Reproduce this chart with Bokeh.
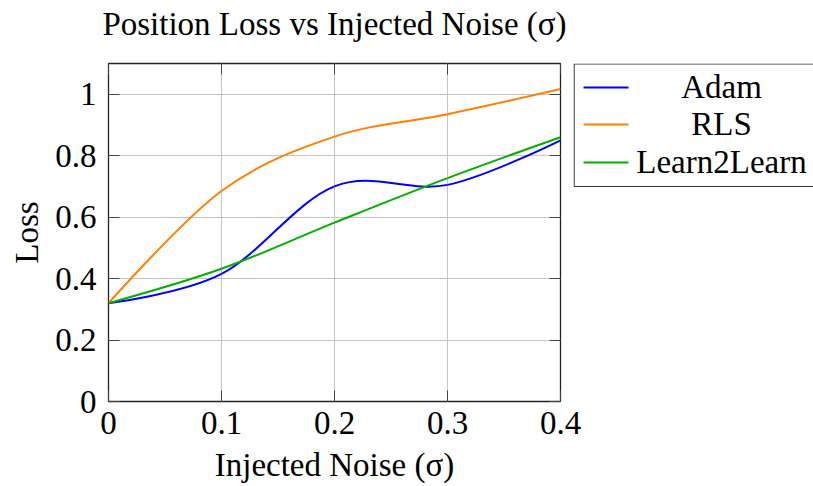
from bokeh.plotting import figure
from bokeh.layouts import row
from bokeh.models import Range1d, FixedTicker, LinearAxis
from bokeh.core.properties import value
from bokeh.embed import file_html
from bokeh.resources import INLINE

# --- data -------------------------------------------------------------
noise = [0.0, 0.1, 0.2, 0.3, 0.4]
adam = [0.32, 0.415, 0.70, 0.705, 0.85]
rls = [0.32, 0.685, 0.862, 0.935, 1.017]
learn2learn = [0.32, 0.432, 0.582, 0.727, 0.86]

series_names = ["Adam", "RLS", "Learn2Learn"]
series_colors = ["#0000ff", "#ff8000", "#00b000"]

x_ticks = [0.0, 0.1, 0.2, 0.3, 0.4]
x_tick_labels = ["0", "0.1", "0.2", "0.3", "0.4"]
y_ticks = [0.0, 0.2, 0.4, 0.6, 0.8, 1.0]
y_tick_labels = ["0", "0.2", "0.4", "0.6", "0.8", "1"]

TITLE = "Position Loss vs Injected Noise (σ)"
FONT = "Liberation Serif"
FS = "33px"

# page geometry (pixels)
H = 486
FRAME_TOP, FRAME_BOTTOM = 63, 401


def smooth_segments(xs, ys, k=0.17):
    """Cubic Bezier pieces of a cardinal spline through the points."""
    n = len(xs)
    seg = dict(x0=[], y0=[], x1=[], y1=[], cx0=[], cy0=[], cx1=[], cy1=[])
    for i in range(n - 1):
        if i == 0:
            c0x, c0y = xs[0], ys[0]
        else:
            c0x = xs[i] + k * (xs[i + 1] - xs[i - 1])
            c0y = ys[i] + k * (ys[i + 1] - ys[i - 1])
        if i + 1 == n - 1:
            c1x, c1y = xs[n - 1], ys[n - 1]
        else:
            c1x = xs[i + 1] - k * (xs[i + 2] - xs[i])
            c1y = ys[i + 1] - k * (ys[i + 2] - ys[i])
        seg["x0"].append(xs[i]); seg["y0"].append(ys[i])
        seg["x1"].append(xs[i + 1]); seg["y1"].append(ys[i + 1])
        seg["cx0"].append(c0x); seg["cy0"].append(c0y)
        seg["cx1"].append(c1x); seg["cy1"].append(c1y)
    return seg


# --- main axes ----------------------------------------------------------
p = figure(width=583, height=H, output_backend="svg", toolbar_location=None,
           x_range=Range1d(0, 0.4), y_range=Range1d(0, 1.1),
           x_axis_label="Injected Noise (σ)", y_axis_label="Loss",
           min_border_left=108, min_border_right=23,
           min_border_top=FRAME_TOP, min_border_bottom=H - FRAME_BOTTOM)

p.background_fill_color = "white"
p.border_fill_color = "white"
p.outline_line_color = "#222222"
p.outline_line_width = 1.3

for ax in (p.xaxis[0], p.yaxis[0]):
    ax.axis_label_text_font = FONT
    ax.axis_label_text_font_size = FS
    ax.axis_label_text_font_style = "normal"
    ax.axis_label_text_color = "black"
    ax.major_label_text_font = FONT
    ax.major_label_text_font_size = FS
    ax.major_label_text_color = "black"
    ax.axis_line_color = None
    ax.major_tick_in = 11
    ax.major_tick_out = 0
    ax.major_tick_line_color = "#444444"
    ax.minor_tick_line_color = None

p.xaxis[0].ticker = FixedTicker(ticks=x_ticks)
p.xaxis[0].major_label_overrides = dict(zip(x_ticks, x_tick_labels))
p.yaxis[0].ticker = FixedTicker(ticks=y_ticks)
p.yaxis[0].major_label_overrides = dict(zip(y_ticks, y_tick_labels))
p.xaxis[0].major_label_standoff = 10
p.yaxis[0].major_label_standoff = 12
p.xaxis[0].axis_label_standoff = 10
p.yaxis[0].axis_label_standoff = 7

# tick marks on the opposite sides of the frame; the top one also carries
# the chart heading, centred over the frame
for side, ticks in (("right", y_ticks), ("above", x_ticks)):
    ax = LinearAxis(ticker=FixedTicker(ticks=ticks), axis_line_color=None,
                    major_tick_in=11, major_tick_out=0,
                    major_tick_line_color="#444444",
                    minor_tick_line_color=None,
                    major_label_standoff=0, major_label_text_font_size="1px",
                    major_label_overrides={t: "" for t in ticks})
    if side == "above":
        ax.axis_label = TITLE
        ax.axis_label_text_font = FONT
        ax.axis_label_text_font_size = FS
        ax.axis_label_text_font_style = "normal"
        ax.axis_label_text_color = "black"
        ax.axis_label_standoff = 22
    p.add_layout(ax, side)

p.xgrid.ticker = FixedTicker(ticks=x_ticks)
p.ygrid.ticker = FixedTicker(ticks=y_ticks)
for g in (p.xgrid[0], p.ygrid[0]):
    g.grid_line_color = "#c4c4c4"
    g.grid_line_width = 1

for ys, color in zip([adam, rls, learn2learn], series_colors):
    s = smooth_segments(noise, ys)
    p.bezier(x0=s["x0"], y0=s["y0"], x1=s["x1"], y1=s["y1"],
             cx0=s["cx0"], cy0=s["cy0"], cx1=s["cx1"], cy1=s["cy1"],
             line_color=color, line_width=2)

# --- legend panel: its frame lines up with the main frame, so the
# y range is given in page pixels (pointing down) ----------------------
LW = 240
leg = figure(width=LW, height=H, output_backend="svg", toolbar_location=None,
             x_range=Range1d(0, LW), y_range=Range1d(FRAME_BOTTOM, FRAME_TOP),
             x_axis_type=None, y_axis_type=None,
             min_border=0, margin=(0, 0, 0, -10))
leg.outline_line_color = None
leg.grid.visible = False
leg.background_fill_alpha = 0
leg.border_fill_alpha = 0

leg.quad(left=[0.6], right=[LW + 10], top=[63.5], bottom=[186],
         fill_color="white", line_color="#333333", line_width=1.2)
row_y = [87, 124, 162]
leg.segment(x0=[10] * 3, x1=[55] * 3, y0=row_y, y1=row_y,
            line_color=series_colors, line_width=2)
leg.text(x=[148] * 3, y=[yy - 1 for yy in row_y], text=series_names,
         text_align="center", text_baseline="alphabetic",
         text_font=value(FONT), text_font_size=value(FS), text_color="black")

layout = row(p, leg, spacing=0)
open("out.html", "w").write(file_html(layout, INLINE))
